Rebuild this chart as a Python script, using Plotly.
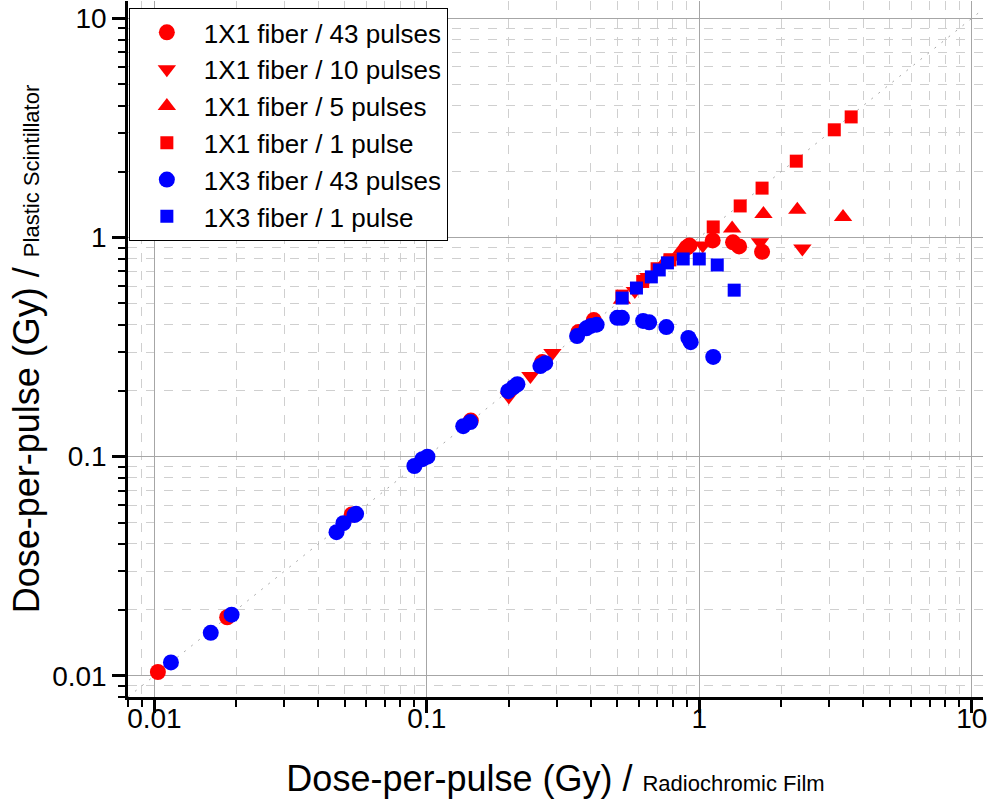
import math
import plotly.graph_objects as go

# Dose-per-pulse (Gy): radiochromic film (x) vs plastic scintillator (y)

# 1X1 fiber / 43 pulses
film_1x1_43 = [0.0103, 0.0185, 0.053, 0.145, 0.265, 0.36, 0.41, 0.90, 0.92, 1.12, 1.33, 1.40, 1.70]
scint_1x1_43 = [0.0104, 0.0185, 0.0545, 0.146, 0.27, 0.37, 0.42, 0.90, 0.92, 0.97, 0.95, 0.91, 0.86]

# 1X1 fiber / 10 pulses
film_1x1_10 = [0.20, 0.24, 0.289, 0.58, 0.65, 0.80, 1.03, 1.67, 2.39]
scint_1x1_10 = [0.188, 0.233, 0.297, 0.57, 0.66, 0.81, 0.92, 0.95, 0.89]

# 1X1 fiber / 5 pulses
film_1x1_5 = [0.52, 0.74, 0.86, 1.32, 1.72, 2.29, 3.37]
scint_1x1_5 = [0.52, 0.76, 0.88, 1.10, 1.28, 1.34, 1.24]

# 1X1 fiber / 1 pulse
film_1x1_1 = [0.52, 0.62, 0.70, 0.78, 1.125, 1.413, 1.70, 2.27, 3.13, 3.61]
scint_1x1_1 = [0.54, 0.63, 0.72, 0.79, 1.117, 1.393, 1.68, 2.23, 3.10, 3.55]

# 1X3 fiber / 43 pulses
film_1x3_43 = [0.0115, 0.0161, 0.0192, 0.0466, 0.0494, 0.0542, 0.0550, 0.090, 0.0963, 0.1005,
               0.136, 0.1444, 0.199, 0.208, 0.215, 0.261, 0.272, 0.356, 0.385, 0.40, 0.42,
               0.50, 0.52, 0.622, 0.655, 0.757, 0.912, 0.93, 1.125]
scint_1x3_43 = [0.0115, 0.0157, 0.019, 0.0452, 0.0497, 0.0541, 0.0548, 0.0906, 0.0974, 0.100,
                0.1377, 0.1437, 0.199, 0.2075, 0.214, 0.259, 0.267, 0.355, 0.385, 0.395, 0.40,
                0.43, 0.43, 0.416, 0.41, 0.39, 0.348, 0.333, 0.285]

# 1X3 fiber / 1 pulse
film_1x3_1 = [0.521, 0.588, 0.667, 0.713, 0.764, 0.873, 1.0, 1.164, 1.343]
scint_1x3_1 = [0.529, 0.588, 0.661, 0.711, 0.766, 0.798, 0.798, 0.749, 0.575]

RED = "#ff0000"
BLUE = "#0000ff"
FONT = "Arial, Liberation Sans"

series = [
    ("1X1 fiber / 43 pulses", film_1x1_43, scint_1x1_43, "circle", RED, 16),
    ("1X1 fiber / 10 pulses", film_1x1_10, scint_1x1_10, "triangle-down", RED, 16),
    ("1X1 fiber / 5 pulses", film_1x1_5, scint_1x1_5, "triangle-up", RED, 16),
    ("1X1 fiber / 1 pulse", film_1x1_1, scint_1x1_1, "square", RED, 13),
    ("1X3 fiber / 43 pulses", film_1x3_43, scint_1x3_43, "circle", BLUE, 16),
    ("1X3 fiber / 1 pulse", film_1x3_1, scint_1x3_1, "square", BLUE, 13),
]

x_lo, x_hi = 0.008, 11
y_lo, y_hi = 0.008, 12

fig = go.Figure()

# identity line y = x
fig.add_trace(go.Scatter(
    x=[x_lo, x_hi], y=[x_lo, x_hi], mode="lines",
    line=dict(color="#a8a8a8", width=1, dash="2px,7px"),
    showlegend=False, hoverinfo="skip",
))

for name, xs, ys, sym, col, size in series:
    fig.add_trace(go.Scatter(
        x=xs, y=ys, mode="markers", name=name,
        marker=dict(symbol=sym, color=col, size=size, line=dict(width=0)),
    ))

major_vals = [0.01, 0.1, 1, 10]
major_text = ["0.01", "0.1", "1", "10"]
minor_vals = [k * 10.0 ** e for e in range(-3, 2) for k in range(2, 10)]

axis_common = dict(
    type="log",
    tickvals=major_vals,
    ticktext=major_text,
    ticks="outside",
    ticklen=13,
    tickwidth=2.5,
    tickcolor="black",
    showline=True,
    linecolor="black",
    linewidth=2.5,
    showgrid=True,
    gridcolor="#a6a6a6",
    gridwidth=1,
    zeroline=False,
    ticklabeloverflow="allow",
    tickfont=dict(family=FONT, size=28, color="black"),
    minor=dict(
        tickvals=minor_vals,
        ticks="outside",
        ticklen=7,
        tickwidth=2,
        tickcolor="black",
        showgrid=True,
        gridcolor="#cfcfcf",
        gridwidth=1,
        griddash="dash",
    ),
)

fig.update_xaxes(
    **axis_common,
    range=[math.log10(x_lo), math.log10(x_hi)],
    ticklabelstandoff=-18,
    title=dict(
        text='Dose-per-pulse (Gy) / <span style="font-size:22px">Radiochromic Film</span>',
        font=dict(family=FONT, size=36, color="black"),
        standoff=33,
    ),
)
fig.update_yaxes(
    **axis_common,
    range=[math.log10(y_lo), math.log10(y_hi)],
    title=dict(
        text='Dose-per-pulse (Gy) / <span style="font-size:22px">Plastic Scintillator</span>',
        font=dict(family=FONT, size=36, color="black"),
        standoff=2,
    ),
)

fig.update_layout(
    width=987,
    height=803,
    margin=dict(l=128, r=4, t=1, b=106),
    plot_bgcolor="white",
    paper_bgcolor="white",
    font=dict(family=FONT, color="black"),
    legend=dict(
        x=0.001, y=0.99, xanchor="left", yanchor="top",
        bgcolor="white", bordercolor="black", borderwidth=1,
        font=dict(family=FONT, size=26, color="black"),
        itemwidth=64,
        tracegroupgap=0,
    ),
)

fig.write_html("out.html")
